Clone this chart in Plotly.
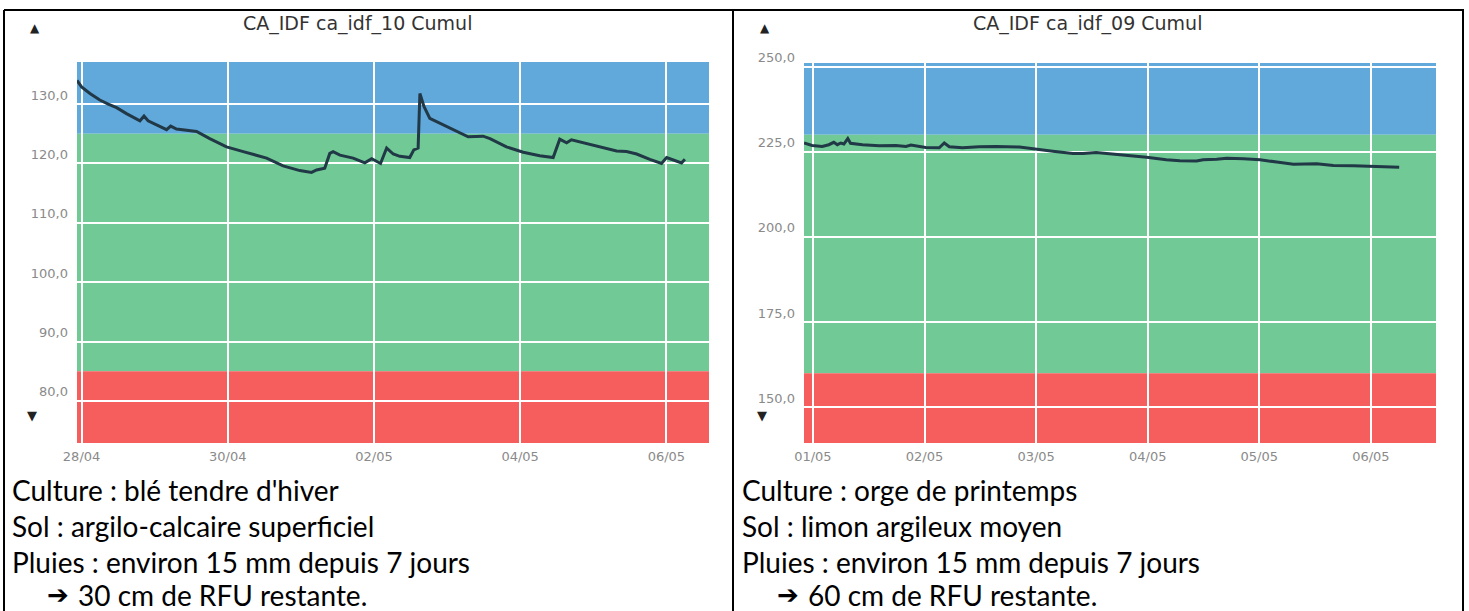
import plotly.graph_objects as go

W, H = 1469, 611

# ---------------- Left chart data ----------------
left_title = "CA_IDF ca_idf_10 Cumul"
left_times = [
    "2020-04-27 22:30", "2020-04-28 00:00", "2020-04-28 02:45", "2020-04-28 06:00",
    "2020-04-28 08:45", "2020-04-28 11:30", "2020-04-28 14:45", "2020-04-28 19:10",
    "2020-04-28 20:30", "2020-04-28 21:50", "2020-04-29 03:55", "2020-04-29 05:15",
    "2020-04-29 07:10", "2020-04-29 10:30", "2020-04-29 13:45", "2020-04-29 18:05",
    "2020-04-29 23:35", "2020-04-30 05:05", "2020-04-30 12:45", "2020-04-30 18:10",
    "2020-04-30 23:40", "2020-05-01 03:30", "2020-05-01 05:10", "2020-05-01 07:50",
    "2020-05-01 09:30", "2020-05-01 10:35", "2020-05-01 12:50", "2020-05-01 17:10",
    "2020-05-01 21:00", "2020-05-01 23:15", "2020-05-02 02:10", "2020-05-02 04:10",
    "2020-05-02 06:20", "2020-05-02 08:30", "2020-05-02 11:45", "2020-05-02 13:05",
    "2020-05-02 14:30", "2020-05-02 15:05", "2020-05-02 16:25", "2020-05-02 18:20",
    "2020-05-02 22:45", "2020-05-03 03:05", "2020-05-03 06:55", "2020-05-03 11:50",
    "2020-05-03 14:05", "2020-05-03 19:30", "2020-05-04 01:00", "2020-05-04 06:25",
    "2020-05-04 10:50", "2020-05-04 13:00", "2020-05-04 15:15", "2020-05-04 16:50",
    "2020-05-04 22:50", "2020-05-05 07:40", "2020-05-05 10:55", "2020-05-05 14:15",
    "2020-05-05 18:35", "2020-05-05 22:25", "2020-05-06 00:05", "2020-05-06 05:00",
    "2020-05-06 06:05",
]
left_values = [
    134.0, 132.9, 131.8, 130.7, 130.0, 129.4, 128.4, 127.2, 128.0, 127.2,
    125.7, 126.3, 125.8, 125.6, 125.4, 124.2, 122.8, 122.0, 120.9, 119.6,
    118.8, 118.5, 118.9, 119.2, 121.7, 122.0, 121.4, 120.9, 120.1, 120.8,
    120.0, 122.6, 121.6, 121.2, 121.0, 122.3, 122.6, 131.8, 129.6, 127.6,
    126.5, 125.5, 124.5, 124.6, 124.2, 122.8, 121.9, 121.3, 121.0, 124.1,
    123.5, 124.0, 123.2, 122.1, 122.0, 121.6, 120.7, 120.0, 121.0, 120.1,
    120.7,
]
left_low, left_high = 85, 125          # red below, blue above
left_yrange = [72.9, 137.1]
left_xrange = ["2020-04-27 22:30", "2020-05-06 14:00"]
left_yticks = [80, 90, 100, 110, 120, 130]
left_ytext = ["80,0", "90,0", "100,0", "110,0", "120,0", "130,0"]
left_xticks = ["2020-04-28", "2020-04-30", "2020-05-02", "2020-05-04", "2020-05-06"]
left_xtext = ["28/04", "30/04", "02/05", "04/05", "06/05"]
left_notes = ["Culture : blé tendre d'hiver", "Sol : argilo-calcaire superficiel",
              "Pluies : environ 15 mm depuis 7 jours"]
left_result = "30 cm de RFU restante."

# ---------------- Right chart data ----------------
right_title = "CA_IDF ca_idf_09 Cumul"
right_times = [
    "2020-04-30 22:05", "2020-04-30 23:50", "2020-05-01 02:00", "2020-05-01 03:25",
    "2020-05-01 04:30", "2020-05-01 05:15", "2020-05-01 06:00", "2020-05-01 06:40",
    "2020-05-01 07:30", "2020-05-01 08:05", "2020-05-01 10:40", "2020-05-01 14:15",
    "2020-05-01 17:50", "2020-05-01 20:00", "2020-05-01 21:05", "2020-05-01 22:10",
    "2020-05-02 00:15", "2020-05-02 03:10", "2020-05-02 04:15", "2020-05-02 05:20",
    "2020-05-02 08:10", "2020-05-02 11:45", "2020-05-02 15:25", "2020-05-02 20:25",
    "2020-05-03 00:00", "2020-05-03 03:35", "2020-05-03 07:55", "2020-05-03 10:05",
    "2020-05-03 12:55", "2020-05-03 16:30", "2020-05-03 18:00", "2020-05-03 23:45",
    "2020-05-04 04:00", "2020-05-04 06:55", "2020-05-04 10:30", "2020-05-04 11:55",
    "2020-05-04 14:50", "2020-05-04 17:00", "2020-05-04 20:35", "2020-05-05 00:10",
    "2020-05-05 03:45", "2020-05-05 07:20", "2020-05-05 12:20", "2020-05-05 15:55",
    "2020-05-05 20:15", "2020-05-05 23:50", "2020-05-06 03:25", "2020-05-06 06:05",
]
right_values = [
    227.6, 226.9, 226.6, 227.1, 227.8, 227.1, 227.6, 227.3, 228.9, 227.5,
    227.1, 226.8, 226.9, 226.6, 227.0, 226.8, 226.3, 226.2, 227.6, 226.5,
    226.2, 226.5, 226.6, 226.4, 225.9, 225.2, 224.5, 224.5, 224.8, 224.4,
    224.1, 223.4, 222.7, 222.4, 222.3, 222.7, 222.8, 223.1, 223.0, 222.7,
    222.0, 221.4, 221.5, 221.0, 220.9, 220.8, 220.6, 220.5,
]
right_low, right_high = 160, 230
right_yrange = [139.5, 251.1]
right_xrange = ["2020-04-30 22:05", "2020-05-06 14:00"]
right_yticks = [150, 175, 200, 225, 250]
right_ytext = ["150,0", "175,0", "200,0", "225,0", "250,0"]
right_xticks = ["2020-05-01", "2020-05-02", "2020-05-03", "2020-05-04", "2020-05-05", "2020-05-06"]
right_xtext = ["01/05", "02/05", "03/05", "04/05", "05/05", "06/05"]
right_notes = ["Culture : orge de printemps", "Sol : limon argileux moyen",
               "Pluies : environ 15 mm depuis 7 jours"]
right_result = "60 cm de RFU restante."

# ---------------- Styles ----------------
BLUE, GREEN, RED = "#61a8db", "#71c996", "#f65e5e"
LINE = "#213847"
TICK = dict(family="DejaVu Sans", size=13, color="#8a8a8a")


def px(x):
    return x / W


def py(y):
    return 1 - y / H


fig = go.Figure()
fig.add_trace(go.Scatter(x=left_times, y=left_values, mode="lines",
                         line=dict(color=LINE, width=3), xaxis="x", yaxis="y",
                         showlegend=False, hoverinfo="skip"))
fig.add_trace(go.Scatter(x=right_times, y=right_values, mode="lines",
                         line=dict(color=LINE, width=3), xaxis="x2", yaxis="y2",
                         showlegend=False, hoverinfo="skip"))

common_x = dict(type="date", showgrid=True, gridcolor="white", gridwidth=1.5,
                zeroline=False, showline=False, ticks="", tickfont=TICK, fixedrange=True,
                automargin=False, ticklabelstandoff=4)
common_y = dict(showgrid=True, gridcolor="white", gridwidth=1.5, zeroline=False,
                showline=False, ticks="", tickfont=TICK, ticklabelposition="outside top",
                fixedrange=True, automargin=False, ticklabelstandoff=8)

fig.update_layout(
    width=W, height=H, margin=dict(l=0, r=0, t=0, b=0, pad=0, autoexpand=False),
    paper_bgcolor="white", plot_bgcolor="white", showlegend=False,
    xaxis=dict(common_x, domain=[px(77), px(709)], anchor="y", range=left_xrange,
               tickvals=left_xticks, ticktext=left_xtext),
    yaxis=dict(common_y, domain=[py(443), py(62)], anchor="x", range=left_yrange,
               tickvals=left_yticks, ticktext=left_ytext),
    xaxis2=dict(common_x, domain=[px(804), px(1436)], anchor="y2", range=right_xrange,
                tickvals=right_xticks, ticktext=right_xtext),
    yaxis2=dict(common_y, domain=[py(443), py(63)], anchor="x2", range=right_yrange,
                tickvals=right_yticks, ticktext=right_ytext),
)

shapes = []
for xr, yr, low, high, rng in [("x", "y", left_low, left_high, left_yrange),
                               ("x2", "y2", right_low, right_high, right_yrange)]:
    for y0, y1, col in [(high, rng[1], BLUE), (low, high, GREEN), (rng[0], low, RED)]:
        shapes.append(dict(type="rect", xref=xr + " domain", yref=yr, x0=0, x1=1,
                           y0=y0, y1=y1, fillcolor=col, line=dict(width=0), layer="below"))

# table borders
border = dict(color="black", width=2)
shapes += [
    dict(type="line", xref="paper", yref="paper", x0=px(4), x1=px(1464), y0=py(10), y1=py(10), line=border),
    dict(type="line", xref="paper", yref="paper", x0=px(4), x1=px(4), y0=py(10), y1=0, line=border),
    dict(type="line", xref="paper", yref="paper", x0=px(733), x1=px(733), y0=py(10), y1=0, line=border),
    dict(type="line", xref="paper", yref="paper", x0=px(1463), x1=px(1463), y0=py(10), y1=0, line=border),
]
fig.update_layout(shapes=shapes)

ann = []
TITLE_FONT = dict(family="DejaVu Sans", size=19, color="#333333")
for cx, title in [(357, left_title), (1087, right_title)]:
    ann.append(dict(x=px(cx), y=py(23), xref="paper", yref="paper", text=title,
                    showarrow=False, xanchor="center", yanchor="middle", font=TITLE_FONT))
for ax in [35, 765]:
    ann.append(dict(x=px(ax), y=py(28), xref="paper", yref="paper", text="▲",
                    showarrow=False, xanchor="center", yanchor="middle",
                    font=dict(family="DejaVu Sans", size=12, color="#222222")))
    ann.append(dict(x=px(ax - 3), y=py(415), xref="paper", yref="paper", text="▼",
                    showarrow=False, xanchor="center", yanchor="middle",
                    font=dict(family="DejaVu Sans", size=13, color="#222222")))

NOTE_FONT = dict(family="Lato", size=28, color="black")
for x0, notes, result in [(10, left_notes, left_result), (740, right_notes, right_result)]:
    for i, line in enumerate(notes):
        ann.append(dict(x=px(x0), y=py(490 + 36 * i), xref="paper", yref="paper", text=line,
                        showarrow=False, xanchor="left", yanchor="middle", font=NOTE_FONT))
    ann.append(dict(x=px(x0 + 35), y=py(595), xref="paper", yref="paper", text="<b>➔</b>",
                    showarrow=False, xanchor="left", yanchor="middle",
                    font=dict(family="DejaVu Sans", size=26, color="black")))
    ann.append(dict(x=px(x0 + 66), y=py(595), xref="paper", yref="paper", text=result,
                    showarrow=False, xanchor="left", yanchor="middle", font=NOTE_FONT))
fig.update_layout(annotations=ann)

fig.write_html("out.html", config={"displayModeBar": False},
               post_script="document.body.style.margin='0';document.body.style.overflow='hidden';")
